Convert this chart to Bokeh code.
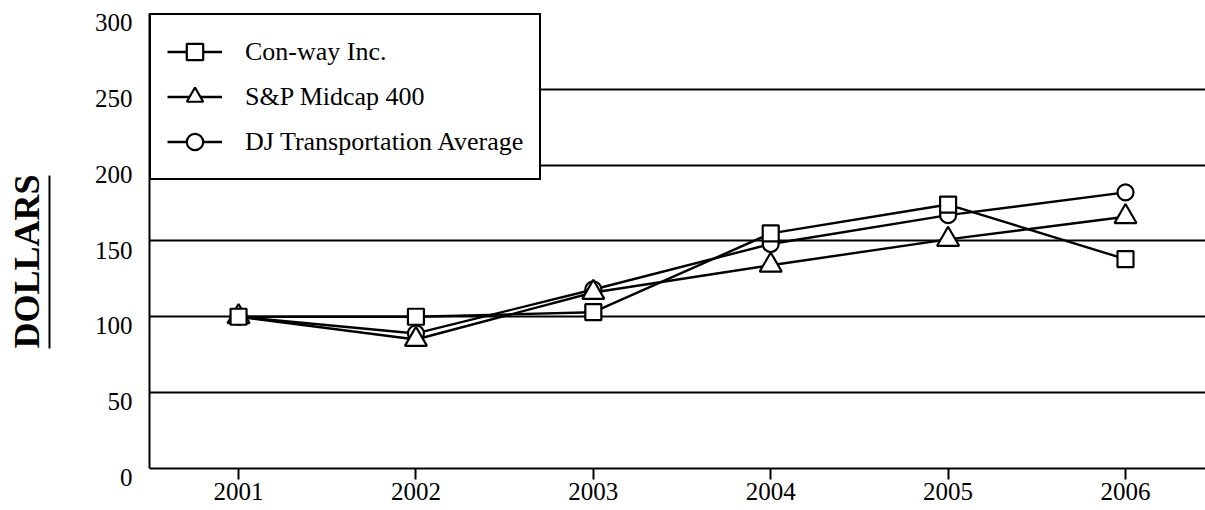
from bokeh.plotting import figure
from bokeh.models import (Range1d, LinearAxis, FixedTicker, Title, Legend, LegendItem)
from bokeh.embed import file_html
from bokeh.resources import INLINE

# ---- data ----
years = [2001, 2002, 2003, 2004, 2005, 2006]
conway = [100, 100, 103, 155, 174, 138]
sp400 = [100, 85, 116, 134, 151, 166]
djta = [100, 89, 118, 148, 167, 182]
y_ticks = [0, 50, 100, 150, 200, 250, 300]
series_names = ["Con-way Inc.", "S&P Midcap 400", "DJ Transportation Average"]
y_label = "DOLLARS"
underline_span = (79, 193)   # value extent of the rule beside the y title

FONT = "Liberation Serif"
LABEL_SHIFT = 6  # y tick labels sit just below their gridline

p = figure(width=1205, height=510, output_backend="svg", toolbar_location=None,
           x_range=Range1d(2000.498, 2006.451),
           y_range=Range1d(-LABEL_SHIFT, 300),
           min_border_left=149, min_border_top=13, min_border_right=0,
           min_border_bottom=33)
p.outline_line_color = None
p.background_fill_color = "white"
p.border_fill_color = "white"

# grid (the 0 line doubles as the x axis line)
p.xgrid.visible = False
yg = p.ygrid[0]
yg.ticker = FixedTicker(ticks=y_ticks)
yg.grid_line_color = "black"
yg.grid_line_width = 2

# main y axis: line only
ya = p.yaxis[0]
ya.ticker = FixedTicker(ticks=[])
ya.bounds = (0, 300)
ya.axis_line_color = "black"
ya.axis_line_width = 2
ya.major_tick_out = 0
ya.major_tick_in = 0
ya.minor_tick_out = 0
ya.minor_tick_in = 0
ya.major_label_standoff = 0

# y tick labels axis
p.extra_y_ranges = {"lab": Range1d(0, 300 + LABEL_SHIFT)}
la = LinearAxis(y_range_name="lab", ticker=FixedTicker(ticks=y_ticks),
                axis_line_color=None, major_tick_out=0, major_tick_in=0,
                minor_tick_out=0, minor_tick_in=0, major_label_standoff=17,
                major_label_text_font=FONT, major_label_text_font_size="25px",
                major_label_text_color="black")
p.add_layout(la, "left")

# blank spacer between the tick labels and the rule
sp = LinearAxis(ticker=FixedTicker(ticks=[300]), axis_line_color=None,
                major_tick_out=42, major_tick_in=0, minor_tick_out=0,
                minor_tick_in=0, major_tick_line_color="white",
                major_label_overrides={300: ""}, major_label_standoff=0)
p.add_layout(sp, "left")

# rule beside the y title
ua = LinearAxis(ticker=FixedTicker(ticks=[]), bounds=underline_span,
                axis_line_color="black", axis_line_width=2,
                major_tick_out=0, major_tick_in=0, minor_tick_out=0,
                minor_tick_in=0, major_label_standoff=0)
p.add_layout(ua, "left")

p.add_layout(Title(text=y_label, align="left", offset=129,
                   vertical_align="middle", standoff=4, text_font=FONT,
                   text_font_style="bold", text_font_size="36px",
                   text_color="black"), "left")

# x axis
xa = p.xaxis[0]
xa.ticker = FixedTicker(ticks=years)
xa.axis_line_color = None
xa.major_tick_out = 2
xa.major_tick_in = 9
xa.major_tick_line_color = "black"
xa.major_tick_line_width = 2
xa.minor_tick_out = 0
xa.minor_tick_in = 0
xa.major_label_standoff = 3
xa.major_label_text_font = FONT
xa.major_label_text_font_size = "25px"
xa.major_label_text_color = "black"

# lines
l1 = p.line(years, conway, line_color="black", line_width=2.4)
l2 = p.line(years, sp400, line_color="black", line_width=2.4)
l3 = p.line(years, djta, line_color="black", line_width=2.4)
# markers
m3 = p.scatter(years, djta, marker="circle", size=16, fill_color="white",
               line_color="black", line_width=2.2)
m2 = p.scatter(years, sp400, marker="triangle", size=22, fill_color="white",
               line_color="black", line_width=2.2)
m1 = p.scatter(years, conway, marker="square", size=16, fill_color="white",
               line_color="black", line_width=2.2)

legend = Legend(items=[LegendItem(label=series_names[0], renderers=[l1, m1]),
                       LegendItem(label=series_names[1], renderers=[l2, m2]),
                       LegendItem(label=series_names[2], renderers=[l3, m3])],
                location="top_left", margin=0, padding=16, spacing=4,
                glyph_width=55, glyph_height=41, label_height=41,
                label_standoff=23, label_text_font=FONT,
                label_text_font_size="26px", label_text_color="black",
                border_line_color="black", border_line_width=2,
                border_line_alpha=1,
                background_fill_color="white", background_fill_alpha=1)
p.add_layout(legend)

open("out.html", "w").write(file_html(p, INLINE))
